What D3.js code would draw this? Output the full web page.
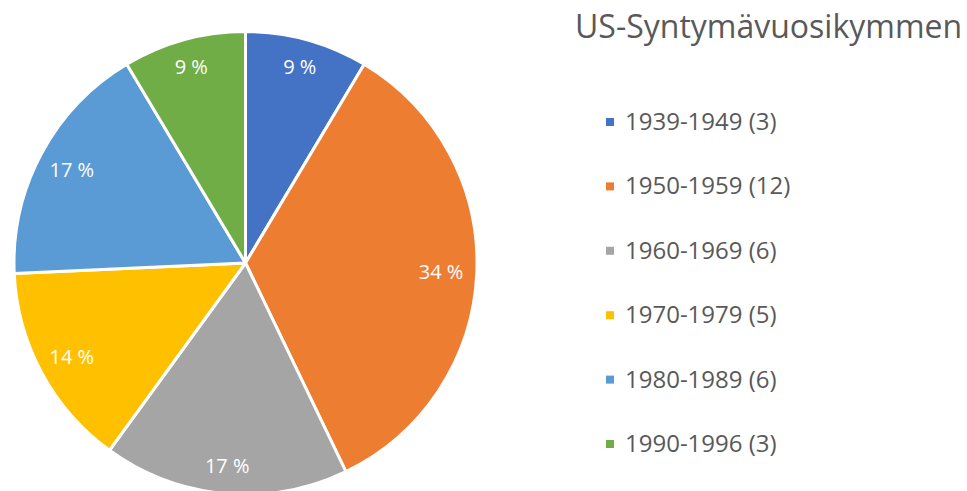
<!DOCTYPE html>
<html>
<head>
<meta charset="utf-8">
<script src="https://cdn.jsdelivr.net/npm/d3@7"></script>
<style>
  body { margin: 0; background: #fff; }
  svg { display: block; font-family: "Open Sans", sans-serif; }
</style>
</head>
<body>
<div id="chart"></div>
<script>
const categories = ['1939-1949', '1950-1959', '1960-1969', '1970-1979', '1980-1989', '1990-1996'];
const counts = [3, 12, 6, 5, 6, 3];
const colors = ['#4472C4', '#ED7D31', '#A5A5A5', '#FFC000', '#5B9BD5', '#70AD47'];
const title = 'US-Syntymävuosikymmen';

const width = 967, height = 491;
const cx = 245.5, cy = 263, radius = 231.5;

const svg = d3.select('#chart').append('svg')
    .attr('width', width)
    .attr('height', height);

const total = d3.sum(counts);
const pie = d3.pie().sort(null).value(d => d.value);
const arcs = pie(categories.map((c, i) => ({ name: c, value: counts[i], color: colors[i] })));

const arc = d3.arc().innerRadius(0).outerRadius(radius);

const g = svg.append('g')
    .attr('transform', `translate(${cx},${cy})`);

g.selectAll('.slice')
    .data(arcs)
    .enter()
    .append('path')
    .attr('class', 'slice')
    .attr('d', arc)
    .attr('fill', d => d.data.color)
    .attr('stroke', '#fff')
    .attr('stroke-width', 3)
    .attr('stroke-linejoin', 'round');

// labels sit inside the outer edge, pulled in by the size of the text box
const labels = g.selectAll('.label')
    .data(arcs)
    .enter()
    .append('text')
    .attr('class', 'label')
    .attr('text-anchor', 'middle')
    .attr('dy', '0.36em')
    .attr('fill', '#fff')
    .attr('font-size', 20)
    .text(d => Math.round(d.value / total * 100) + ' %');

labels.attr('transform', function(d) {
    const a = (d.startAngle + d.endAngle) / 2;
    const s = Math.sin(a), c = Math.cos(a);
    const hw = this.getComputedTextLength() / 2, hh = 14;
    const r = radius - 13.5 - Math.sqrt((s * hw) ** 2 + (c * hh) ** 2);
    return `translate(${s * r},${-c * r})`;
});

svg.append('text')
    .attr('x', 575)
    .attr('y', 38)
    .attr('fill', '#595959')
    .attr('font-size', 32)
    .text(title);

const legend = svg.selectAll('.legend')
    .data(arcs)
    .enter()
    .append('g')
    .attr('class', 'legend')
    .attr('transform', (d, i) => `translate(606,${130 + i * 64.4})`);

legend.append('rect')
    .attr('x', 0)
    .attr('y', -12)
    .attr('width', 8)
    .attr('height', 8)
    .attr('fill', d => d.data.color);

legend.append('text')
    .attr('x', 19)
    .attr('y', 0)
    .attr('fill', '#595959')
    .attr('font-size', 24)
    .text(d => `${d.data.name} (${d.data.value})`);
</script>
</body>
</html>
